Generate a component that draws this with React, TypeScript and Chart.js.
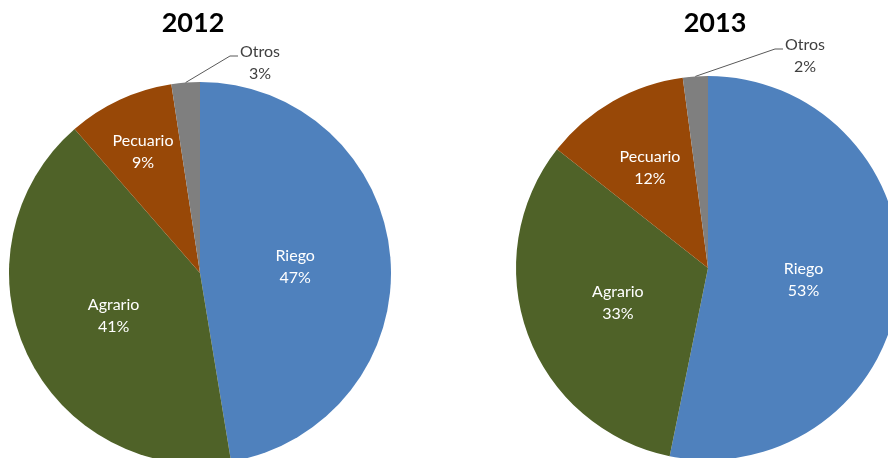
import React, { useEffect, useRef } from "react";
import { Chart, registerables } from "chart.js";

Chart.register(...registerables);

const categories = ["Riego", "Agrario", "Pecuario", "Otros"];
const years = ["2012", "2013"];
const values2012 = [47.4, 41.2, 9.0, 2.4];
const values2013 = [53.2, 32.4, 12.3, 2.1];
const pctLabels2012 = ["47%", "41%", "9%", "3%"];
const pctLabels2013 = ["53%", "33%", "12%", "2%"];
const colors = ["#4F81BD", "#4F6228", "#984807", "#7F7F7F"];

const FONT = "Lato, 'Open Sans', sans-serif";
const TEXT_SHIFT = 2;

type Layout = {
  left: number;
  padding: { left: number; right: number; top: number; bottom: number };
  radius: number;
  titleX: number;
  titleY: number;
  labelFactor: number[];
  outside: { textX: number; textY: number; elbowX: number; elbowY: number; endX: number };
};

const layouts: Layout[] = [
  {
    left: 0,
    padding: { left: 0, right: 44, top: 88, bottom: 0 },
    radius: 191,
    titleX: 193,
    titleY: 23,
    labelFactor: [0.5, 0.5, 0.71, 0.5],
    outside: { textX: 260, textY: 61, elbowX: 230, elbowY: 56, endX: 238 },
  },
  {
    left: 444,
    padding: { left: 84, right: 0, top: 78, bottom: 0 },
    radius: 192,
    titleX: 271,
    titleY: 23,
    labelFactor: [0.5, 0.5, 0.61, 0.5],
    outside: { textX: 361, textY: 53.5, elbowX: 331, elbowY: 49, endX: 339 },
  },
];

function PieChart({ idx, values, pcts }: { idx: number; values: number[]; pcts: string[] }) {
  const ref = useRef<HTMLCanvasElement | null>(null);
  useEffect(() => {
    if (!ref.current) return;
    const lay = layouts[idx];
    const labelPlugin = {
      id: "pieLabels" + idx,
      afterDatasetsDraw(chart: any) {
        const ctx = chart.ctx as CanvasRenderingContext2D;
        const meta = chart.getDatasetMeta(0);
        ctx.save();
        ctx.font = `bold 27px ${FONT}`;
        ctx.fillStyle = "#000000";
        ctx.textAlign = "center";
        ctx.textBaseline = "middle";
        ctx.fillText(years[idx], lay.titleX, lay.titleY);
        meta.data.forEach((arc: any, i: number) => {
          const p = arc.getProps(["x", "y", "startAngle", "endAngle", "outerRadius"], true);
          const mid = (p.startAngle + p.endAngle) / 2;
          ctx.font = `16px ${FONT}`;
          ctx.textAlign = "center";
          ctx.textBaseline = "middle";
          if (i === 3) {
            const sx = p.x + Math.cos(mid) * p.outerRadius;
            const sy = p.y + Math.sin(mid) * p.outerRadius;
            ctx.strokeStyle = "#595959";
            ctx.lineWidth = 1;
            ctx.beginPath();
            ctx.moveTo(sx, sy);
            ctx.lineTo(lay.outside.elbowX, lay.outside.elbowY);
            ctx.lineTo(lay.outside.endX, lay.outside.elbowY);
            ctx.stroke();
            ctx.fillStyle = "#404040";
            ctx.fillText(categories[i], lay.outside.textX, lay.outside.textY - 11 + TEXT_SHIFT);
            ctx.fillText(pcts[i], lay.outside.textX, lay.outside.textY + 11 + TEXT_SHIFT);
          } else {
            const r = p.outerRadius * lay.labelFactor[i];
            const lx = p.x + Math.cos(mid) * r;
            const ly = p.y + Math.sin(mid) * r;
            ctx.fillStyle = "#FFFFFF";
            ctx.fillText(categories[i], lx, ly - 11 + TEXT_SHIFT);
            ctx.fillText(pcts[i], lx, ly + 11 + TEXT_SHIFT);
          }
        });
        ctx.restore();
      },
    };
    const chart = new Chart(ref.current, {
      type: "pie",
      data: {
        labels: categories,
        datasets: [
          {
            data: values,
            backgroundColor: colors,
            borderWidth: 0,
            hoverOffset: 0,
            clip: false as any,
          },
        ],
      },
      options: {
        responsive: false,
        animation: false,
        radius: lay.radius,
        layout: { padding: lay.padding },
        plugins: {
          legend: { display: false },
          tooltip: { enabled: false },
          title: { display: false },
        },
      } as any,
      plugins: [labelPlugin],
    });
    return () => chart.destroy();
  }, [idx, values, pcts]);
  return (
    <canvas
      ref={ref}
      width={444}
      height={458}
      style={{ position: "absolute", left: layouts[idx].left, top: 0, width: 444, height: 458 }}
    />
  );
}

export default function App() {
  return (
    <div
      style={{
        position: "fixed",
        left: 0,
        top: 0,
        width: 888,
        height: 458,
        overflow: "hidden",
        background: "#FFFFFF",
      }}
    >
      <PieChart idx={0} values={values2012} pcts={pctLabels2012} />
      <PieChart idx={1} values={values2013} pcts={pctLabels2013} />
    </div>
  );
}
